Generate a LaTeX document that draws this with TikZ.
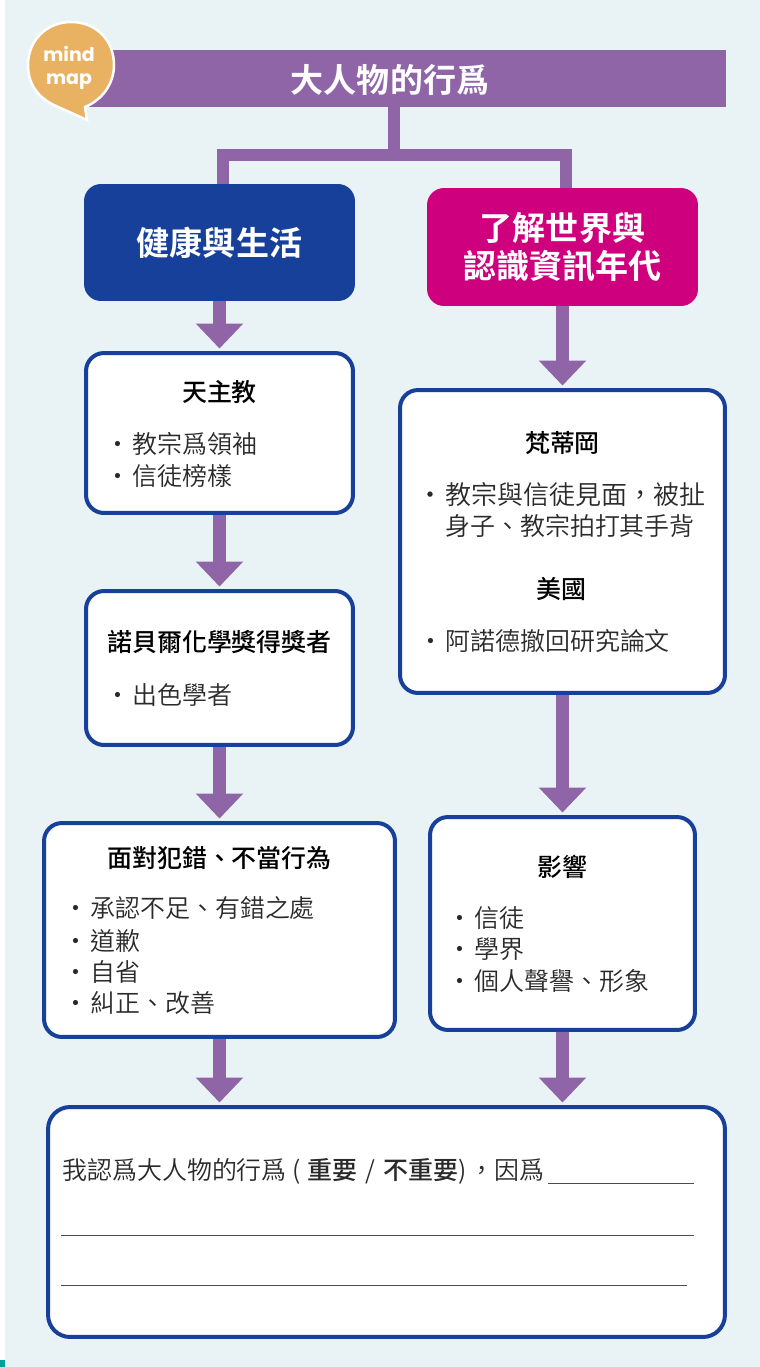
\documentclass[tikz,border=0pt]{standalone}
\usepackage{fontspec}
\setmainfont{Noto Sans CJK TC DemiLight}[BoldFont={Noto Sans CJK TC Medium}]
\newfontfamily\strongfont{Noto Sans CJK TC}[BoldFont={Noto Sans CJK TC Bold}]
\newfontfamily\mapfont{Poppins}
\usetikzlibrary{arrows.meta}
\definecolor{pagebg}{HTML}{E9F3F5}
\definecolor{barpurple}{HTML}{8F65A8}
\definecolor{boxblue}{HTML}{17409A}
\definecolor{boxpink}{HTML}{CF007E}
\definecolor{bubbleorange}{HTML}{E8B262}
\definecolor{edgeteal}{HTML}{00A09A}
\definecolor{inkgray}{HTML}{2A2A2A}
\newcommand{\dotitem}[1]{\makebox[11.4pt][l]{\makebox[6pt][c]{·}}#1}
\tikzset{
  panel/.style={draw=boxblue,line width=.08cm,fill=white,rounded corners=.36cm},
  headbox/.style={rounded corners=.34cm,text=white,align=center,inner sep=0pt,
    font=\fontsize{18.8}{21.6}\selectfont\strongfont\bfseries},
  heading/.style={inner sep=0pt,text=black,font=\fontsize{14.2}{17}\selectfont\bfseries},
  itemtext/.style={anchor=west,inner sep=0pt,text=inkgray,font=\fontsize{14.2}{17}\selectfont},
  stem/.style={barpurple,line width=.24cm},
  downarrow/.style={barpurple,line width=.26cm,shorten >=.05cm,
    -{Triangle[width=.92cm,length=.5cm]}},
  ruleline/.style={black!70,line width=.02cm}
}
\begin{document}
\begin{tikzpicture}[x=.02cm,y=-.02cm]
  \useasboundingbox (0,0) rectangle (760,1367);
  \fill[pagebg] (5,0) rectangle (760,1367);
  \fill[edgeteal] (0,1360) rectangle (5,1367);
  % top bar and the two head boxes
  \node[fill=barpurple,minimum width=12.82cm,minimum height=1.14cm,inner sep=0pt] (titlebar) at (405.5,78.5) {};
  \node[inner sep=0pt,text=white,font=\fontsize{18.8}{21.6}\selectfont\strongfont\bfseries] (titletext) at (390,80) {大人物的行爲};
  \node[headbox,fill=boxblue,minimum width=5.42cm,minimum height=2.34cm] (health) at (219.5,242.5) {健康與生活};
  \node[headbox,fill=boxpink,minimum width=5.42cm,minimum height=2.36cm] (world) at (562.5,247) {了解世界與\\認識資訊年代};
  \coordinate (teeM) at (394,155);
  \coordinate (teeL) at (223,155);
  \coordinate (teeR) at (566,155);
  \draw[stem] (titlebar.south -| teeM) -- (teeM);
  \draw[stem] (health.north -| teeL) -- (teeL) -- (teeR) -- (world.north -| teeR);
  % speech bubble
  \draw[fill=bubbleorange,draw=white,line width=.05cm] (56,106) .. controls (38,98) and (28,84) .. (28,65)
    .. controls (28,40) and (47,22) .. (71,22) .. controls (96,22) and (114,40) .. (114,65)
    .. controls (114,84) and (102,100) .. (85,107) -- (87,120) -- cycle;
  \node[inner sep=0pt,text=white,align=center,font=\fontsize{10.8}{13.4}\selectfont\mapfont\bfseries] (mindmap) at (69,68) {mind\\map};
  % left column
  \node[panel,minimum width=5.34cm,minimum height=3.2cm] (catholic) at (219.5,433) {};
  \node[heading] (catholichead) at (219.5,392) {天主教};
  \node[itemtext] (catholicone) at (112,444) {\dotitem{教宗爲領袖}};
  \node[itemtext] (catholictwo) at (112,476) {\dotitem{信徒榜樣}};
  \node[panel,minimum width=5.34cm,minimum height=3.08cm] (nobel) at (219.5,668) {};
  \node[heading] (nobelhead) at (219.5,642) {諾貝爾化學獎得獎者};
  \node[itemtext] (nobelone) at (112,695) {\dotitem{出色學者}};
  \node[panel,minimum width=7.02cm,minimum height=4.28cm] (wrongdoing) at (219.5,930) {};
  \node[heading] (wrongdoinghead) at (219.5,858) {面對犯錯、不當行為};
  \node[itemtext] (wrongone) at (70,908) {\dotitem{承認不足、有錯之處}};
  \node[itemtext] (wrongtwo) at (70,941) {\dotitem{道歉}};
  \node[itemtext] (wrongthree) at (70,972) {\dotitem{自省}};
  \node[itemtext] (wrongfour) at (70,1003) {\dotitem{糾正、改善}};
  % right column
  \node[panel,minimum width=6.5cm,minimum height=6.06cm] (vatican) at (562.5,541.5) {};
  \node[heading] (vaticanhead) at (562.5,443) {梵蒂岡};
  \node[itemtext,font=\fontsize{14.8}{17}\selectfont] (vaticanone) at (425,495) {\dotitem{教宗與信徒見面，被扯}};
  \node[itemtext] (vaticantwo) at (445,526) {身子、教宗拍打其手背};
  \node[heading] (usahead) at (561,589) {美國};
  \node[itemtext] (usaone) at (425,641) {\dotitem{阿諾德撤回研究論文}};
  \node[panel,minimum width=5.3cm,minimum height=4.26cm] (impact) at (562.5,923.5) {};
  \node[heading] (impacthead) at (562,867) {影響};
  \node[itemtext] (impactone) at (454,918) {\dotitem{信徒}};
  \node[itemtext] (impacttwo) at (454,949) {\dotitem{學界}};
  \node[itemtext] (impactthree) at (454,981) {\dotitem{個人聲譽、形象}};
  % answer box
  \node[panel,minimum width=13.54cm,minimum height=4.6cm,rounded corners=.44cm] (answer) at (386.5,1222) {};
  \node[itemtext] (answertext) at (62,1171) {我認爲大人物的行爲 (\hspace{4pt}{\bfseries 重要}\hspace{1.5pt} / \hspace{1.5pt}{\bfseries 不重要})\hspace{1.5pt}，因爲};
  \coordinate (lineA) at (694,1183);
  \coordinate (lineB) at (61,1235);
  \coordinate (lineC) at (61,1285);
  \draw[ruleline] (548,1183) -- (lineA);
  \draw[ruleline] (lineB) -- (694,1235);
  \draw[ruleline] (lineC) -- (687,1285);
  % arrows
  \draw[downarrow] (health) -- (catholic);
  \draw[downarrow] (catholic) -- (nobel);
  \draw[downarrow] (nobel) -- (wrongdoing);
  \draw[downarrow] (wrongdoing.south) -- (answer.north -| wrongdoing.south);
  \draw[downarrow] (world) -- (vatican);
  \draw[downarrow] (vatican) -- (impact);
  \draw[downarrow] (impact.south) -- (answer.north -| impact.south);
\end{tikzpicture}
\end{document}
